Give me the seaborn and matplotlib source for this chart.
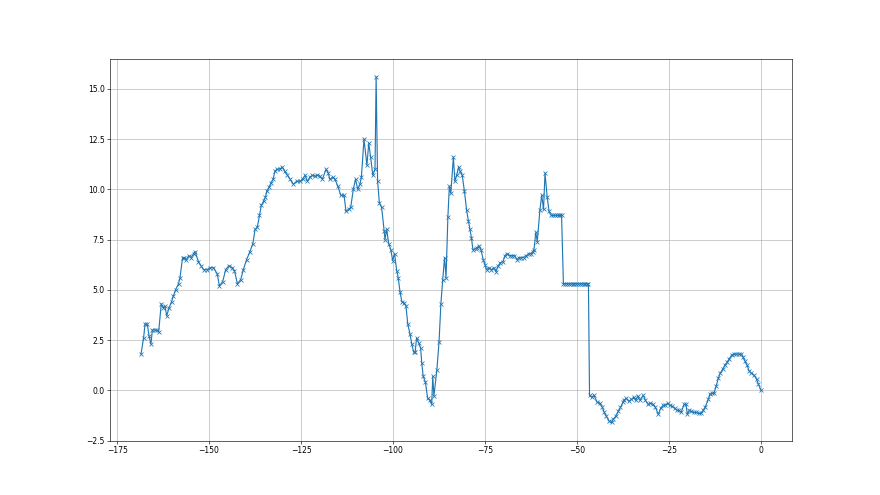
import matplotlib
matplotlib.use('Agg')
import matplotlib.pyplot as plt
import seaborn as sns
import pandas as pd

# values
x_vals = [
    -168.5, -167.8, -167.4, -166.8, -166.3, -165.8, -165.4, -164.7, -164.2, -163.7,
    -163.0, -162.4, -162.0, -161.5, -160.9, -160.2, -159.7, -159.1, -158.3, -157.9,
    -157.2, -156.8, -156.2, -155.5, -154.9, -154.2, -153.8, -152.9, -152.2, -151.5,
    -150.6, -149.7, -148.8, -147.8, -147.2, -146.3, -145.5, -144.6, -143.7, -143.1,
    -142.3, -141.4, -140.7, -139.8, -138.9, -138.1, -137.5, -136.9, -136.3, -135.8,
    -135.2, -134.7, -134.3, -133.7, -133.2, -132.6, -132.1, -131.5, -130.8, -130.1,
    -129.5, -128.7, -128.0, -127.1, -126.2, -125.3, -124.6, -123.9, -123.3, -122.6,
    -121.9, -121.3, -120.6, -119.9, -119.2, -118.2, -117.6, -117.2, -116.4, -115.8,
    -115.0, -114.2, -113.3, -112.8, -112.1, -111.5, -110.8, -110.2, -109.6, -109.0,
    -108.6, -107.9, -107.1, -106.6, -106.1, -105.5, -104.9, -104.6, -104.2, -103.7,
    -103.1, -102.4, -102.2, -101.7, -101.2, -100.6, -100.1, -99.6, -99.0, -98.6,
    -98.1, -97.6, -97.0, -96.5, -96.0, -95.4, -94.9, -94.4, -94.0, -93.6,
    -93.0, -92.5, -92.2, -91.8, -91.2, -90.6, -90.0, -89.5, -89.2, -88.9,
    -88.1, -87.5, -87.0, -86.5, -86.0, -85.6, -85.1, -84.7, -84.3, -83.6,
    -83.2, -82.7, -82.2, -81.8, -81.2, -80.6, -80.0, -79.5, -79.1, -78.7,
    -78.3, -77.5, -77.1, -76.7, -76.1, -75.5, -75.0, -74.6, -73.9, -73.3,
    -72.6, -72.0, -71.4, -70.8, -70.1, -69.6, -69.0, -68.3, -67.6, -67.0,
    -66.3, -65.8, -65.2, -64.5, -63.8, -63.1, -62.5, -62.0, -61.7, -61.2,
    -60.8, -60.1, -59.6, -59.1, -58.7, -58.1, -57.6, -57.0, -56.5, -56.0,
    -55.5, -55.0, -54.5, -54.2, -53.7, -53.2, -52.7, -52.2, -51.7, -51.2,
    -50.7, -50.2, -49.7, -49.2, -48.7, -48.2, -47.7, -47.2, -46.9, -46.6,
    -46.0, -45.4, -44.5, -43.8, -43.1, -42.6, -42.0, -41.2, -40.6, -40.2,
    -39.5, -38.8, -38.2, -37.5, -37.3, -36.6, -35.9, -35.2, -34.6, -34.1,
    -33.5, -32.9, -32.0, -31.4, -30.7, -30.1, -29.4, -28.7, -27.9, -27.3,
    -26.6, -26.0, -25.4, -24.8, -24.1, -23.4, -22.8, -22.3, -21.7, -20.9,
    -20.4, -20.0, -19.5, -18.9, -18.3, -17.6, -16.9, -16.3, -15.7, -15.2,
    -14.3, -13.9, -13.4, -12.8, -12.2, -11.6, -11.1, -10.4, -9.8, -9.2,
    -8.7, -8.0, -7.4, -6.7, -6.0, -5.3, -4.9, -4.4, -3.8, -3.2,
    -2.6, -1.9, -1.2, -0.7, 0.0,
]

y_vals = [
    1.8, 2.6, 3.3, 3.3, 2.7, 2.3, 3.0, 3.0, 3.0, 2.9,
    4.3, 4.1, 4.2, 3.7, 4.1, 4.4, 4.7, 5.0, 5.3, 5.6,
    6.6, 6.6, 6.5, 6.7, 6.6, 6.8, 6.9, 6.4, 6.2, 6.0,
    6.0, 6.1, 6.1, 5.8, 5.2, 5.4, 6.0, 6.2, 6.1, 5.95,
    5.3, 5.5, 6.0, 6.5, 6.9, 7.3, 8.0, 8.1, 8.7, 9.2,
    9.4, 9.6, 9.9, 10.1, 10.3, 10.5, 10.9, 11.0, 11.0, 11.1,
    10.9, 10.7, 10.5, 10.25, 10.4, 10.4, 10.5, 10.7, 10.4, 10.6,
    10.7, 10.65, 10.7, 10.65, 10.5, 11.0, 10.8, 10.5, 10.6, 10.5,
    10.15, 9.7, 9.7, 8.9, 9.0, 9.1, 10.0, 10.5, 10.0, 10.25,
    10.6, 12.5, 11.2, 12.3, 11.6, 10.7, 11.0, 15.6, 10.4, 9.3,
    9.1, 7.9, 7.5, 8.0, 7.3, 7.0, 6.45, 6.8, 5.95, 5.6,
    4.9, 4.4, 4.35, 4.2, 3.3, 2.8, 2.3, 1.9, 1.9, 2.6,
    2.35, 2.1, 1.35, 0.7, 0.4, -0.4, -0.5, -0.7, 0.7, -0.3,
    1.0, 2.4, 4.3, 5.5, 6.6, 5.6, 8.6, 10.15, 9.8, 11.6,
    10.4, 10.7, 11.1, 10.9, 10.7, 9.9, 8.95, 8.4, 8.0, 7.6,
    7.0, 7.05, 7.1, 7.2, 7.0, 6.5, 6.25, 6.0, 6.1, 6.0,
    6.1, 5.9, 6.2, 6.35, 6.4, 6.7, 6.8, 6.7, 6.7, 6.7,
    6.5, 6.6, 6.6, 6.6, 6.7, 6.8, 6.8, 6.9, 7.0, 7.85,
    7.4, 8.95, 9.7, 9.0, 10.8, 9.6, 8.9, 8.7, 8.7, 8.7,
    8.7, 8.7, 8.7, 8.7, 5.3, 5.3, 5.3, 5.3, 5.3, 5.3,
    5.3, 5.3, 5.3, 5.3, 5.3, 5.3, 5.3, 5.3, 5.3, -0.25,
    -0.35, -0.25, -0.6, -0.65, -0.85, -1.1, -1.3, -1.55, -1.6, -1.45,
    -1.3, -1.05, -0.85, -0.6, -0.5, -0.4, -0.55, -0.45, -0.35, -0.5,
    -0.3, -0.5, -0.25, -0.5, -0.7, -0.65, -0.7, -0.85, -1.2, -0.9,
    -0.75, -0.75, -0.65, -0.75, -0.8, -0.9, -1.0, -1.0, -1.1, -0.7,
    -0.7, -1.2, -1.0, -1.05, -1.1, -1.1, -1.15, -1.15, -1.0, -0.85,
    -0.45, -0.2, -0.15, -0.15, 0.2, 0.6, 0.85, 1.05, 1.25, 1.4,
    1.55, 1.75, 1.8, 1.8, 1.8, 1.8, 1.65, 1.45, 1.25, 0.95,
    0.85, 0.75, 0.55, 0.3, 0.0,
]

df = pd.DataFrame({'x': x_vals, 'y': y_vals})

fig, ax = plt.subplots(figsize=(16, 9), dpi=55)
sns.lineplot(data=df, x='x', y='y', ax=ax, estimator=None, sort=False,
             color='#1f77b4', linewidth=1.5, marker='x', markersize=6,
             markeredgecolor='#1f77b4', markeredgewidth=1.0)
ax.set_xlabel('')
ax.set_ylabel('')
ax.set_yticks([-2.5, 0.0, 2.5, 5.0, 7.5, 10.0, 12.5, 15.0])
ax.grid(True)
ax.set_axisbelow(True)

plt.savefig('out.png', dpi=55)
